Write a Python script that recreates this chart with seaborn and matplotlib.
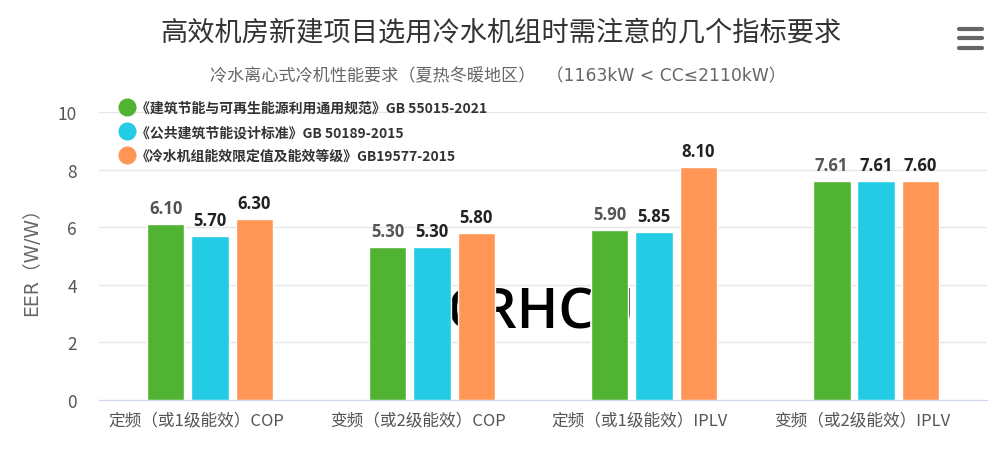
import matplotlib
matplotlib.use("Agg")
import matplotlib.pyplot as plt
import matplotlib.transforms as mtransforms
import pandas as pd
import seaborn as sns
from matplotlib.lines import Line2D

# chart data
categories = ["定频（或1级能效）COP", "变频（或2级能效）COP", "定频（或1级能效）IPLV", "变频（或2级能效）IPLV"]
series = ["《建筑节能与可再生能源利用通用规范》GB 55015-2021",
          "《公共建筑节能设计标准》GB 50189-2015",
          "《冷水机组能效限定值及能效等级》GB19577-2015"]
gb55015 = [6.10, 5.30, 5.90, 7.61]
gb50189 = [5.70, 5.30, 5.85, 7.61]
gb19577 = [6.30, 5.80, 8.10, 7.60]
colors = ["#50B432", "#24CBE5", "#FF9655"]

rows = []
for name, vals in zip(series, [gb55015, gb50189, gb19577]):
    for cat, v in zip(categories, vals):
        rows.append({"cat": cat, "series": name, "value": v})
df = pd.DataFrame(rows)

sns.set_style("white")
plt.rcParams["font.family"] = ["Noto Sans CJK SC", "DejaVu Sans"]
latin_first = ["DejaVu Sans", "Noto Sans CJK SC"]

fig = plt.figure(figsize=(9.92, 4.64), dpi=100)
ax = fig.add_axes([0.0998, 0.1358, 0.8952, 0.6207])

sns.barplot(data=df, x="cat", y="value", hue="series", order=categories,
            hue_order=series, palette=colors, width=0.6, gap=0.15,
            saturation=1, legend=False, ax=ax, zorder=3)

label_colors = ["#555555", "#222222", "#222222"]
for cont, lc in zip(ax.containers, label_colors):
    ax.bar_label(cont, fmt="%.2f", padding=5, fontsize=12, fontweight="bold",
                 color=lc, family=["Open Sans", "DejaVu Sans"])

ax.set_ylim(0, 10)
ax.set_yticks([0, 2, 4, 6, 8, 10])
ax.set_xlim(-0.5, len(categories) - 0.5)
ax.yaxis.grid(True, color="#e6e6e6", linewidth=1, zorder=0)
ax.set_axisbelow(True)
for s in ["top", "right", "left"]:
    ax.spines[s].set_visible(False)
ax.spines["bottom"].set_color("#ccd6eb")
ax.tick_params(axis="both", length=0, colors="#555555")
ax.tick_params(axis="x", pad=8, labelsize=12)
ax.tick_params(axis="y", pad=16, labelsize=12.5)
ax.set_xlabel("")
ax.set_ylabel("EER（W/W）", fontsize=13.5, color="#666666", labelpad=12,
              family=latin_first)

# x labels sit a little left of the group centres in the original
shift = mtransforms.ScaledTranslation(-0.14, 0, fig.dpi_scale_trans)
for lab in ax.get_xticklabels():
    lab.set_transform(lab.get_transform() + shift)

# watermark behind bars
ax.text(0.498, 0.253, "CRHCU", transform=ax.transAxes, fontsize=40,
        fontweight="semibold", ha="center", va="baseline", color="black",
        zorder=1, family=["Open Sans", "DejaVu Sans"])

handles = [Line2D([], [], marker="o", linestyle="", markersize=12,
                  markerfacecolor=c, markeredgecolor=c) for c in colors]
fig.legend(handles, series, loc="upper left", bbox_to_anchor=(0.115, 0.792),
           frameon=False, handletextpad=0.15, labelspacing=0.72,
           prop={"weight": "bold", "size": 10}, labelcolor="#333333",
           handlelength=1.0, borderaxespad=0)

fig.text(0.505, 0.928, "高效机房新建项目选用冷水机组时需注意的几个指标要求",
         ha="center", va="center", fontsize=19.6, color="#333333")
fig.text(0.502, 0.836, "冷水离心式冷机性能要求（夏热冬暖地区）  （1163kW < CC≤2110kW）",
         ha="center", va="center", fontsize=12.3, color="#666666", family=latin_first)

# menu icon
for yy in [0.935, 0.915, 0.895]:
    fig.add_artist(Line2D([0.967, 0.99], [yy, yy], color="#666666", linewidth=3,
                          solid_capstyle="round", transform=fig.transFigure))

fig.savefig("out.png", dpi=100)
